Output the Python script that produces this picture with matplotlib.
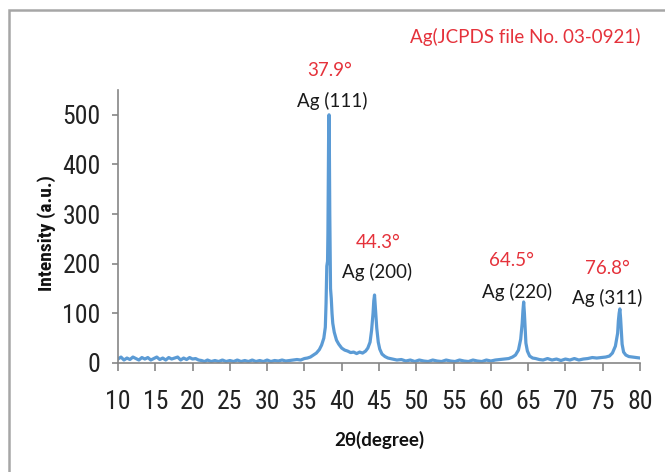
import matplotlib
matplotlib.use("Agg")
import matplotlib.pyplot as plt
from matplotlib.patches import Rectangle
from matplotlib import font_manager

# ---- data ----
two_theta = [
    10.0, 10.4, 10.8, 11.2, 11.6, 12.0, 12.4, 12.8, 13.2, 13.6, 14.0, 14.4, 14.8,
    15.2, 15.6, 16.0, 16.4, 16.8, 17.2, 17.6, 18.0, 18.4, 18.8, 19.2, 19.6, 20.0,
    20.4, 20.8, 21.2, 21.6, 22.0, 22.5, 23.0, 23.5, 24.0, 24.5, 25.0, 25.5, 26.0,
    26.5, 27.0, 27.5, 28.0, 28.5, 29.0, 29.5, 30.0, 30.5, 31.0, 31.5, 32.0, 32.5,
    33.0, 33.5, 34.0, 34.5, 35.0, 35.4, 35.8, 36.2, 36.6, 37.0, 37.3, 37.6, 37.8,
    37.9, 38.0, 38.1, 38.15, 38.2, 38.25, 38.3, 38.35, 38.4, 38.5, 38.6, 38.7,
    38.8, 39.0, 39.3, 39.6, 40.0, 40.4, 40.8, 41.2, 41.6, 42.0, 42.4, 42.8, 43.2,
    43.5, 43.8, 44.0, 44.2, 44.3, 44.4, 44.5, 44.6, 44.7, 44.9, 45.1, 45.4, 45.8,
    46.2, 46.8, 47.4, 48.0, 48.6, 49.2, 49.8, 50.4, 51.0, 51.6, 52.2, 52.8, 53.4,
    54.0, 54.6, 55.2, 55.8, 56.4, 57.0, 57.6, 58.2, 58.8, 59.4, 60.0, 60.6, 61.2,
    61.8, 62.4, 62.9, 63.3, 63.7, 64.0, 64.2, 64.3, 64.4, 64.5, 64.6, 64.7, 64.9,
    65.2, 65.6, 66.0, 66.5, 67.0, 67.6, 68.2, 68.8, 69.4, 70.0, 70.6, 71.2, 71.8,
    72.4, 73.0, 73.6, 74.2, 74.8, 75.4, 75.9, 76.3, 76.7, 77.0, 77.1, 77.2, 77.3,
    77.4, 77.5, 77.6, 77.8, 78.1, 78.5, 79.0, 79.5, 80.0,
]
intensity = [
    8, 12, 6, 10, 7, 12, 9, 6, 11, 8, 11, 6, 9,
    12, 7, 10, 6, 11, 8, 10, 12, 6, 10, 7, 11, 8,
    9, 6, 5, 3, 6, 3, 5, 3, 6, 3, 5, 3, 6,
    3, 5, 3, 6, 3, 5, 3, 6, 3, 5, 4, 6, 4,
    5, 6, 7, 6, 9, 10, 12, 16, 20, 27, 36, 50, 72,
    120, 195, 205, 260, 380, 470, 500, 420, 300, 150, 130, 100,
    80, 62, 46, 38, 30, 26, 24, 21, 22, 19, 22, 20, 24,
    30, 42, 65, 100, 125, 137, 115, 95, 70, 42, 28, 18, 13,
    10, 8, 6, 7, 4, 6, 3, 6, 4, 3, 6, 4, 3,
    6, 4, 3, 6, 4, 3, 6, 4, 3, 6, 4, 6, 7,
    8, 9, 12, 16, 26, 48, 80, 105, 123, 100, 70, 40, 24,
    14, 10, 9, 7, 6, 9, 6, 8, 5, 8, 6, 9, 6,
    8, 9, 11, 10, 11, 12, 14, 20, 34, 60, 85, 100, 109,
    90, 62, 38, 22, 16, 13, 12, 11, 10,
]
x_ticks = [10, 15, 20, 25, 30, 35, 40, 45, 50, 55, 60, 65, 70, 75, 80]
y_ticks = [0, 100, 200, 300, 400, 500]
peak_angles = ["37.9°", "44.3°", "64.5°", "76.8°"]
peak_labels = ["Ag (111)", "Ag (200)", "Ag (220)", "Ag (311)"]
reference_note = "Ag(JCPDS file No. 03-0921)"


# ---- choose a narrow font if one is installed ----
def find_narrow():
    names = {f.name for f in font_manager.fontManager.ttflist}
    for cand in ["Liberation Sans Narrow", "Arial Narrow", "Roboto Condensed",
                 "DejaVu Sans Condensed", "Open Sans Condensed", "Noto Sans Condensed"]:
        if cand in names:
            return cand, "normal"
    for f in font_manager.fontManager.ttflist:
        st = str(f.stretch)
        if ("Narrow" in f.name or "Condensed" in f.name):
            return f.name, "normal"
        if st in ("condensed", "semi-condensed", "extra-condensed") and "Sans" in f.name:
            return f.name, st
    return None, "normal"


narrow_name, narrow_stretch = find_narrow()
if narrow_name:
    tick_font = [narrow_name, "Liberation Sans", "DejaVu Sans"]
else:
    tick_font = ["Liberation Sans", "DejaVu Sans"]

# ---- figure ----
W, H = 665, 472
fig = plt.figure(figsize=(W / 100, H / 100), dpi=100)
fig.patch.set_facecolor("white")

# outer chart frame (open to the right and bottom)
fig.patches.append(Rectangle((8.5 / W, -0.1), 1.2, 1.1 - 10 / H,
                             transform=fig.transFigure, fill=False,
                             edgecolor="#A6A6A6", linewidth=1.8))

ax = fig.add_axes([118 / W, 1 - 363 / H, (640 - 118) / W, (363 - 90) / H])
ax.plot(two_theta, intensity, color="#5B9BD5", linewidth=2.3)
ax.set_xlim(10, 80)
ax.set_ylim(0, 550)
ax.set_xticks(x_ticks)
ax.set_yticks(y_ticks)

tick_size = 18.5 if narrow_name else 14
for lab in ax.get_xticklabels() + ax.get_yticklabels():
    lab.set_fontfamily(tick_font)
    lab.set_fontstretch(narrow_stretch)
    lab.set_fontsize(tick_size)
    lab.set_color("#222222")

for s in ["top", "right"]:
    ax.spines[s].set_visible(False)
for s in ["left", "bottom"]:
    ax.spines[s].set_color("#868686")
    ax.spines[s].set_linewidth(1.2)
ax.tick_params(axis="x", direction="out", length=5.5, width=1.2, color="#868686", pad=14)
ax.tick_params(axis="y", direction="out", length=4.5, width=1.2, color="#868686", pad=8)

# axis titles
fig.text(47 / W, 1 - 233 / H, "Intensity (a.u.)", rotation=90, ha="center", va="center",
         fontsize=14, fontweight="bold", family=tick_font, stretch=narrow_stretch,
         color="#111111")
fig.text(379 / W, 1 - 440 / H, "2θ(degree)", ha="center", va="center",
         fontsize=13.5, fontweight="bold", family=["Lato", "DejaVu Sans"], color="#111111")

label_font = ["Lato", "DejaVu Sans"]
red = "#E5323B"
angle_pos = [(330, 70), (378, 243), (512, 260), (607, 268)]
label_pos = [(332, 101), (377, 272), (517, 292), (607, 298)]
for txt, (px, py) in zip(peak_angles, angle_pos):
    fig.text(px / W, 1 - py / H, txt, ha="center", va="center", fontsize=13.5,
             family=label_font, color=red)
for txt, (px, py) in zip(peak_labels, label_pos):
    fig.text(px / W, 1 - py / H, txt, ha="center", va="center", fontsize=13.5,
             family=label_font, color="#1A1A1A")

fig.text(640 / W, 1 - 37 / H, reference_note, ha="right", va="center", fontsize=13.5,
         family=label_font, color=red)

fig.savefig("out.png", dpi=100)
